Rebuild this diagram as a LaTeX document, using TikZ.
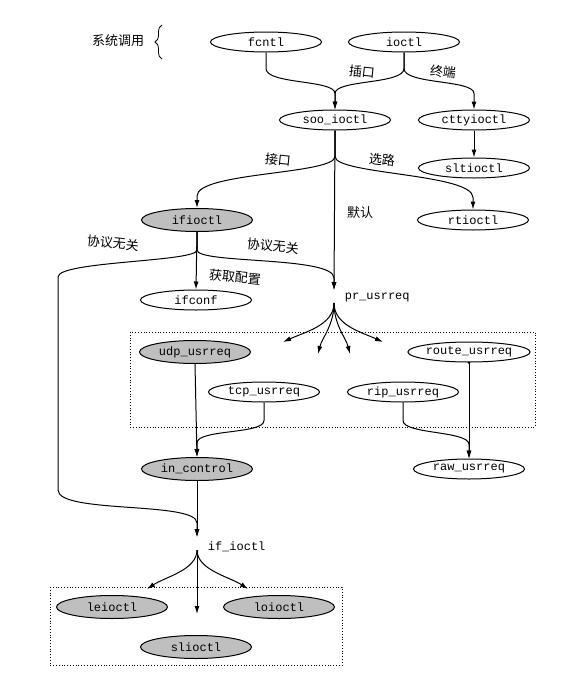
\documentclass[tikz,border=0pt]{standalone}
\usepackage{fontspec}
\setmonofont{Liberation Mono}
\newfontfamily\cjk{Noto Sans CJK SC}
\usetikzlibrary{shapes.geometric,arrows.meta,calc,decorations.pathreplacing}

\begin{document}
\begin{tikzpicture}[
        x=1pt, y=-1pt,
        >={Latex[length=8pt,width=5pt]},
        line width=1pt,
        font=\ttfamily\fontsize{12}{14}\selectfont,
        % 函数椭圆
        func/.style={
            ellipse,
            draw,
            minimum width=111pt,
            minimum height=20pt,
            inner sep=0pt
        },
        % 灰色函数椭圆
        func_gray/.style={
            func,
            fill=gray!50,
            minimum height=23pt
        },
        arrow_call/.style={->},
        % 中文标签
        label_text/.style={
            font=\cjk\fontsize{13}{15}\selectfont,
            inner sep=1pt
        },
        tilt/.style={rotate=-6},
        group_box/.style={draw, dotted, line width=0.8pt}
    ]
    \useasboundingbox (0,0) rectangle (588,675);

    % --- 1. 系统调用 ---
    \node (sys) [label_text] at (118,41) {系统调用};
    \draw[decorate, decoration={brace, amplitude=7pt}, line width=0.8pt] (162,59) -- (162,25);

    \node (fcntl) [func] at (266,42) {fcntl};
    \node (ioctl) [func] at (404,42) {ioctl};

    % --- 2. 函数节点 ---
    \node (soo)     [func]      at (335,120) {soo\_ioctl};
    \node (ctty)    [func]      at (474,120) {cttyioctl};
    \node (slt)     [func]      at (474,168) {sltioctl};
    \node (ifioctl) [func_gray] at (197,220) {ifioctl};
    \node (rtioctl) [func]      at (473,220) {rtioctl};
    \node (ifconf)  [func]      at (196,300) {ifconf};

    \coordinate (prin)  at (334,290);
    \coordinate (prout) at (334,303);
    \node (pr) [anchor=west] at (341,298) {pr\_usrreq};

    \node (udp)   [func_gray] at (195,352) {udp\_usrreq};
    \node (route) [func]      at (469,352) {route\_usrreq};
    \node (tcp)   [func]      at (264,392) {tcp\_usrreq};
    \node (rip)   [func]      at (403,392) {rip\_usrreq};
    \node (inctl) [func_gray] at (197,469) {in\_control};
    \node (raw)   [func]      at (469,469) {raw\_usrreq};

    \coordinate (ifin)  at (197,537);
    \coordinate (ifout) at (197,550);
    \node (ifio) [anchor=west] at (204,547) {if\_ioctl};

    \node (leioctl) [func_gray] at (112,607) {leioctl};
    \node (loioctl) [func_gray] at (279,607) {loioctl};
    \node (slioctl) [func_gray] at (196,647) {slioctl};

    % 虚线框
    \draw[group_box] (130,332) rectangle (535,427);
    \draw[group_box] (50,587) rectangle (342,665);

    % --- 3. 调用关系 ---
    \draw[arrow_call] (fcntl.south) -- ++(0,16) .. controls +(0,16) and +(0,-14) .. ($(soo.north)+(0,-16)$) -- (soo.north);
    \draw[arrow_call] (ioctl.south) -- ++(0,16) .. controls +(0,16) and +(0,-14) .. ($(soo.north)+(0,-16)$) -- (soo.north);
    \draw[arrow_call] (ioctl.south) -- ++(0,16) .. controls +(0,16) and +(0,-14) .. ($(ctty.north)+(0,-16)$) -- (ctty.north);
    \draw[arrow_call] (ctty.south) -- (slt.north);

    \draw[arrow_call] (soo.south) -- ++(0,26) .. controls +(0,18) and +(0,-24) .. ($(ifioctl.north)+(0,-12)$) -- (ifioctl.north);
    \draw[arrow_call] (soo.south) -- ++(0,26) .. controls +(0,18) and +(0,-24) .. ($(rtioctl.north)+(0,-12)$) -- (rtioctl.north);
    \draw[arrow_call] (soo.south) -- (prin);

    \draw[arrow_call] (ifioctl.south) -- (ifconf.north);
    \draw[arrow_call] (ifioctl.south) -- ++(0,18) .. controls +(0,14) and +(0,-22) .. ($(prin)+(0,-12)$) -- (prin);
    \coordinate (bypass_top) at (58,277);
    \coordinate (bypass_bot) at (58,490);
    \draw[arrow_call] (ifioctl.south) -- ++(0,18) .. controls +(0,12) and +(0,-16) .. (bypass_top) -- (bypass_bot)
        .. controls +(0,24) and +(0,-22) .. ($(ifin)+(0,-14)$) -- (ifin);

    % pr_usrreq 分派
    \coordinate (u1) at (283,342);
    \coordinate (u2) at (318,354);
    \coordinate (u3) at (350,354);
    \coordinate (u4) at (383,342);
    \draw[arrow_call] (prout) .. controls +(0,22) and +(22,-10) .. (u1);
    \draw[arrow_call] (prout) .. controls +(0,22) and +(4,-16) .. (u2);
    \draw[arrow_call] (prout) .. controls +(0,22) and +(-4,-16) .. (u3);
    \draw[arrow_call] (prout) .. controls +(0,22) and +(-22,-10) .. (u4);

    \draw[arrow_call] (udp.south) -- (inctl.north);
    \draw[arrow_call] (tcp.south) -- ++(0,18) .. controls +(0,14) and +(0,-14) .. ($(inctl.north)+(0,-14)$) -- (inctl.north);
    \draw[arrow_call] (route.south) -- (raw.north);
    \fill (route.south) circle (1.5pt);
    \draw[arrow_call] (rip.south) -- ++(0,18) .. controls +(0,14) and +(0,-14) .. ($(raw.north)+(0,-14)$) -- (raw.north);
    \draw[arrow_call] (inctl.south) -- (ifin);

    % if_ioctl 分派
    \coordinate (l1) at (147,589);
    \coordinate (l2) at (197,614);
    \coordinate (l3) at (248,589);
    \draw[arrow_call] (ifout) .. controls +(0,20) and +(18,-12) .. (l1);
    \draw[arrow_call] (ifout) -- (l2);
    \draw[arrow_call] (ifout) .. controls +(0,20) and +(-18,-12) .. (l3);

    % --- 4. 标签 ---
    \node (lbl_sock)  [label_text, tilt] at (362,72)  {插口};
    \node (lbl_term)  [label_text, tilt] at (443,72)  {终端};
    \node (lbl_iface) [label_text, tilt] at (278,160) {接口};
    \node (lbl_route) [label_text, tilt] at (382,160) {选路};
    \node (lbl_def)   [label_text]       at (360,213) {默认};
    \node (lbl_pi1)   [label_text, tilt] at (113,243) {协议无关};
    \node (lbl_pi2)   [label_text, tilt] at (273,246) {协议无关};
    \node (lbl_conf)  [label_text, tilt] at (235,277) {获取配置};

\end{tikzpicture}
\end{document}
